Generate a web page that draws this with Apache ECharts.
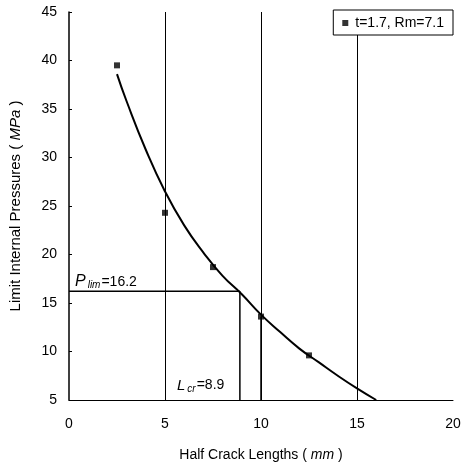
<!DOCTYPE html>
<html>
<head>
<meta charset="utf-8">
<script src="https://cdn.jsdelivr.net/npm/echarts@6/dist/echarts.min.js"></script>
<style>
  html, body { margin: 0; padding: 0; background: #fff; }
  #chart { width: 465px; height: 467px; }
</style>
</head>
<body>
<div id="chart"></div>
<script>
// measured points (half crack length, limit pressure)
const pointX = [2.5, 5, 7.5, 10, 12.5];
const pointY = [39.5, 24.3, 18.7, 13.6, 9.6];

// fitted curve
const curveX = [2.5, 3, 4, 5, 6, 7, 8, 9, 10, 11, 12, 13, 14, 15, 16];
const curveY = [38.6, 35.8, 30.8, 26.5, 23.0, 20.2, 17.8, 15.9, 13.8, 12.0, 10.3, 8.9, 7.5, 6.2, 5.0];

// critical values
const pLim = 16.2;
const lCr = 8.9;

const xTicks = [0, 5, 10, 15, 20];
const yTicks = [5, 10, 15, 20, 25, 30, 35, 40, 45];

const FONT = 'Liberation Sans, Arial, sans-serif';

const chart = echarts.init(document.getElementById('chart'));

const option = {
  animation: false,
  grid: { left: 69, right: 12, top: 12, bottom: 66 },
  legend: {
    data: [{ name: 't=1.7, Rm=7.1', icon: 'rect' }],
    right: 12,
    top: 10,
    orient: 'vertical',
    itemWidth: 6,
    itemHeight: 6,
    itemGap: 0,
    padding: [6, 9, 5, 9],
    borderColor: '#000',
    borderWidth: 1,
    backgroundColor: '#fff',
    textStyle: { color: '#000', fontSize: 14, fontFamily: FONT, padding: [0, 0, 0, 2] }
  },
  xAxis: {
    type: 'value',
    min: xTicks[0],
    max: xTicks[xTicks.length - 1],
    interval: 5,
    name: '{n|Half Crack Lengths ( }{i|mm}{n| )}',
    nameLocation: 'middle',
    nameGap: 48,
    nameTextStyle: {
      rich: {
        n: { fontSize: 14, color: '#000', fontFamily: FONT },
        i: { fontSize: 14, color: '#000', fontFamily: FONT, fontStyle: 'italic' }
      }
    },
    axisLine: { lineStyle: { color: '#000', width: 1 } },
    axisTick: { show: false },
    axisLabel: { color: '#000', fontSize: 14, fontFamily: FONT, margin: 17 },
    splitLine: {
      show: true,
      lineStyle: { color: '#000', width: 1 },
      showMaxLine: false,
      showMinLine: false
    }
  },
  yAxis: {
    type: 'value',
    min: yTicks[0],
    max: yTicks[yTicks.length - 1],
    interval: 5,
    name: '{n|Limit Internal Pressures ( }{i|MPa}{n| )}',
    nameLocation: 'middle',
    nameGap: 46,
    nameTextStyle: {
      rich: {
        n: { fontSize: 15, color: '#000', fontFamily: FONT },
        i: { fontSize: 15, color: '#000', fontFamily: FONT, fontStyle: 'italic' }
      }
    },
    axisLine: { show: true, lineStyle: { color: '#000', width: 1.5 } },
    axisTick: { show: true, inside: true, length: 3, lineStyle: { color: '#000' } },
    axisLabel: { color: '#000', fontSize: 14, fontFamily: FONT, margin: 12 },
    splitLine: { show: false }
  },
  series: [
    {
      name: 'curve',
      type: 'line',
      smooth: true,
      showSymbol: false,
      data: curveX.map((x, i) => [x, curveY[i]]),
      lineStyle: { color: '#000', width: 2 },
      z: 3
    },
    {
      name: 't=1.7, Rm=7.1',
      type: 'scatter',
      symbol: 'rect',
      symbolSize: 6,
      data: pointX.map((x, i) => [x, pointY[i]]),
      itemStyle: { color: '#000' },
      z: 4
    },
    {
      name: 'pLimLine',
      type: 'line',
      showSymbol: false,
      data: [[0, pLim], [lCr, pLim]],
      lineStyle: { color: '#000', width: 1.5 }
    },
    {
      name: 'lCrLine',
      type: 'line',
      showSymbol: false,
      data: [[lCr, 5], [lCr, pLim]],
      lineStyle: { color: '#000', width: 1.5 }
    },
    {
      name: 'x10Line',
      type: 'line',
      showSymbol: false,
      data: [[10, 5], [10, pointY[3]]],
      lineStyle: { color: '#000', width: 1.5 }
    }
  ],
  graphic: [
    {
      type: 'text',
      left: 75,
      top: 274,
      style: {
        text: '{p|P}{s|lim}{t|=16.2}',
        rich: {
          p: { fontSize: 16, fontStyle: 'italic', fontFamily: FONT, fill: '#000' },
          s: { fontSize: 10, fontStyle: 'italic', fontFamily: FONT, fill: '#000', padding: [7, 1, 0, 2] },
          t: { fontSize: 14, fontFamily: FONT, fill: '#000' }
        }
      }
    },
    {
      type: 'text',
      left: 177,
      top: 378,
      style: {
        text: '{p|L}{s|cr}{t|=8.9}',
        rich: {
          p: { fontSize: 15, fontStyle: 'italic', fontFamily: FONT, fill: '#000' },
          s: { fontSize: 10, fontStyle: 'italic', fontFamily: FONT, fill: '#000', padding: [8, 1, 0, 2] },
          t: { fontSize: 14, fontFamily: FONT, fill: '#000' }
        }
      }
    }
  ]
};

chart.setOption(option);
</script>
</body>
</html>
